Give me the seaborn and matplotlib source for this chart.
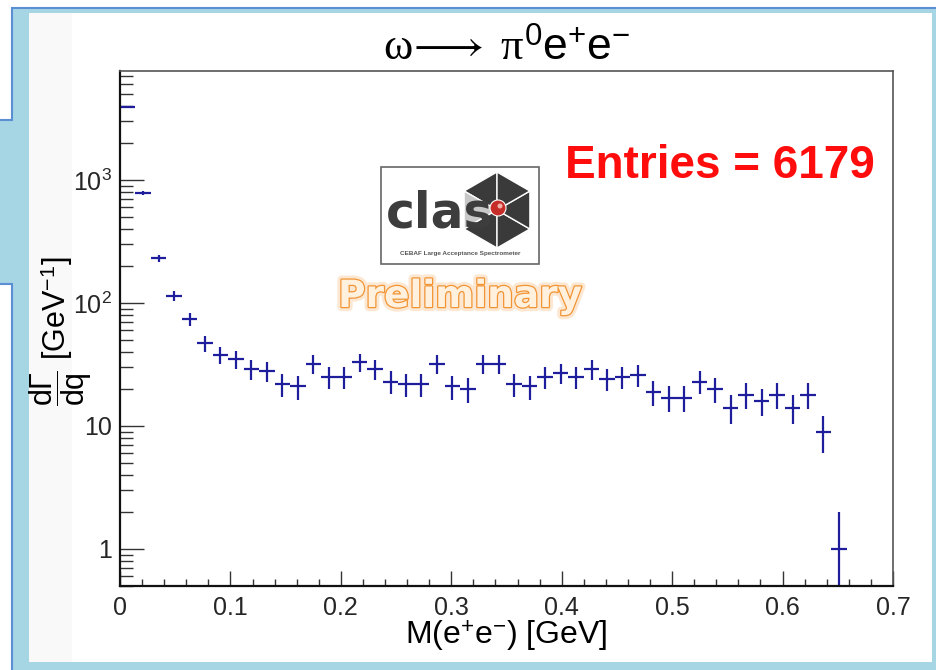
import numpy as np
import pandas as pd
import matplotlib
matplotlib.use('Agg')
import matplotlib.pyplot as plt
import matplotlib.patches as mpatches
import matplotlib.patheffects as pe
from matplotlib.ticker import FixedLocator, FixedFormatter, LogLocator, MultipleLocator, NullFormatter
import seaborn as sns

# Histogram binning of M(e+e-) in GeV
bin_lo, bin_hi, n_bins = 0.0, 0.7, 50

# dGamma/dq per bin (bins 0..46, the last bins are empty)
counts = [3960, 790, 231, 114, 74, 47, 38, 35, 29, 28,
          22, 21, 32, 25, 25, 33, 29, 23, 22, 22,
          32, 21, 20, 32, 32, 22, 21, 25, 27, 25,
          29, 24, 25, 26, 19, 17, 17, 23, 20, 14,
          18, 16, 18, 14, 18, 9, 1]
errors = [63, 28, 15.2, 10.7, 8.6, 6.9, 6.2, 5.9, 5.4, 5.3,
          4.7, 4.6, 5.7, 5.0, 5.0, 5.7, 5.4, 4.8, 4.7, 4.7,
          5.7, 4.6, 4.5, 5.7, 5.7, 4.7, 4.6, 5.0, 5.2, 5.0,
          5.4, 4.9, 5.0, 5.1, 4.4, 4.1, 4.1, 4.8, 4.5, 3.7,
          4.2, 4.0, 4.2, 3.7, 4.2, 3.0, 1.0]
n_entries = 6179

x_ticks = [0, 0.1, 0.2, 0.3, 0.4, 0.5, 0.6, 0.7]
x_tick_labels = ['0', '0.1', '0.2', '0.3', '0.4', '0.5', '0.6', '0.7']
y_ticks = [1, 10, 100, 1000]
y_tick_labels = ['1', '10', r'$\mathregular{10^{2}}$', r'$\mathregular{10^{3}}$']

NAVY = '#1e1e9c'

sns.set_theme(style='ticks')
plt.rcParams['font.family'] = ['Liberation Sans', 'DejaVu Sans']
plt.rcParams['mathtext.fontset'] = 'custom'
plt.rcParams['mathtext.rm'] = 'Liberation Sans'
plt.rcParams['mathtext.it'] = 'Liberation Serif'
plt.rcParams['mathtext.bf'] = 'Liberation Sans:bold'

width = (bin_hi - bin_lo) / n_bins
df = pd.DataFrame({'mass': bin_lo + (np.arange(len(counts)) + 0.5) * width,
                   'dgdq': counts, 'err': errors})

W, H = 937, 670
fig = plt.figure(figsize=(W / 100, H / 100), dpi=100)
fig.patch.set_facecolor('white')

# slide frame in pixel coordinates
bg = fig.add_axes([0, 0, 1, 1], zorder=0)
bg.set_xlim(0, W)
bg.set_ylim(H, 0)
bg.axis('off')
frame = [(12, 8), (W + 5, 8), (W + 5, H + 5), (12, H + 5), (12, 284),
         (-5, 284), (-5, 120), (12, 120)]
bg.add_patch(mpatches.Polygon(frame, closed=True, facecolor='#a6d6e4',
                              edgecolor='#5a8fd3', lw=1.5))
bg.add_patch(mpatches.Rectangle((29, 13), 903, 649, facecolor='white', lw=0))
bg.add_patch(mpatches.Rectangle((29, 13), 43, 649, facecolor='#f9f9f9', lw=0))

# main histogram axes
ax = fig.add_axes([120 / W, 84 / H, 773 / W, 515 / H], zorder=1)
ax.set_facecolor('none')
ax.errorbar(df['mass'], df['dgdq'], xerr=width / 2, yerr=df['err'], fmt='none',
            ecolor=NAVY, elinewidth=1.6, capsize=0)
ax.set_yscale('log')
ax.set_xlim(bin_lo, bin_hi)
ax.set_ylim(0.5, 7700)

ax.xaxis.set_major_locator(FixedLocator(x_ticks))
ax.xaxis.set_major_formatter(FixedFormatter(x_tick_labels))
ax.xaxis.set_minor_locator(MultipleLocator(0.02))
ax.yaxis.set_major_locator(FixedLocator(y_ticks))
ax.yaxis.set_major_formatter(FixedFormatter(y_tick_labels))
ax.yaxis.set_minor_locator(LogLocator(base=10, subs=np.arange(2, 10), numticks=20))
ax.yaxis.set_minor_formatter(NullFormatter())

ax.tick_params(axis='x', which='major', direction='in', length=11, width=1,
               color='#333333', labelsize=18, pad=7, top=False)
ax.tick_params(axis='x', which='minor', direction='in', length=5, width=1,
               color='#333333', top=False)
ax.tick_params(axis='y', which='major', direction='in', length=17, width=1,
               color='#333333', labelsize=18, pad=6, right=False)
ax.tick_params(axis='y', which='minor', direction='in', length=9, width=1,
               color='#333333', right=False)
for side in ['left', 'bottom']:
    ax.spines[side].set_color('#111111')
    ax.spines[side].set_linewidth(1.6)
for side in ['top', 'right']:
    ax.spines[side].set_color('#555555')
    ax.spines[side].set_linewidth(1.2)

ax.set_xlabel(r'M(e$^{+}$e$^{-}$) [GeV]', fontsize=23, color='black')
ax.xaxis.label.set_va('center')
ax.xaxis.set_label_coords(0.5, (586 - 636) / 515)
ax.set_ylabel(r'$\dfrac{\mathrm{d}\Gamma}{\mathrm{dq}}$ [GeV$^{-1}$]', fontsize=22,
              color='black')
ax.yaxis.label.set_va('center')
ax.yaxis.set_label_coords((61 - 120) / 773, (586 - 331) / 515)

ax.set_title(r'$\omega\!\longrightarrow\;\pi^{0}\mathrm{e}^{+}\mathrm{e}^{-}$',
             fontsize=32, y=(586 - 48) / 515, pad=0, va='center', color='black')

# annotations in pixel coordinates
ov = fig.add_axes([0, 0, 1, 1], zorder=3)
ov.set_xlim(0, W)
ov.set_ylim(H, 0)
ov.axis('off')
ov.patch.set_alpha(0)

ov.text(720, 166, f'Entries = {n_entries}', color='#ff0d0d', fontsize=33,
        fontweight='bold', ha='center', va='center')

# CLAS logo
ov.add_patch(mpatches.Rectangle((381, 167), 158, 97, facecolor='white',
                                edgecolor='#666666', lw=1.2))
cx, cy, r = 497, 210, 38
for k in range(6):
    a0 = np.deg2rad(90 + 60 * k)
    a1 = np.deg2rad(90 + 60 * (k + 1))
    tri = [(cx, cy), (cx + r * np.cos(a0), cy - r * np.sin(a0)),
           (cx + r * np.cos(a1), cy - r * np.sin(a1))]
    col = '#c8c8c8' if k == 1 else '#3a3a3a'
    ov.add_patch(mpatches.Polygon(tri, closed=True, facecolor=col,
                                  edgecolor='white', lw=1))
ov.text(440, 213, 'clas', fontsize=35, color='#3d3d3d', family='DejaVu Sans',
        fontweight='bold', ha='center', va='center')
ov.add_patch(mpatches.Circle((498, 208), 8, facecolor='#c62d28', edgecolor='white', lw=0.8))
ov.add_patch(mpatches.Circle((500, 206), 2.5, facecolor='#f3b0a8', lw=0))
ov.text(460, 254, 'CEBAF Large Acceptance Spectrometer', fontsize=4.6,
        color='#555555', ha='center', va='center', fontweight='bold')

ov.text(460, 297, 'Preliminary', fontsize=27, fontweight='bold',
        family='DejaVu Sans', color='#fff1de', ha='center', va='center',
        path_effects=[pe.withStroke(linewidth=6, foreground='#fbd6ad', alpha=0.55),
                      pe.withStroke(linewidth=1.8, foreground='#f29434')])

fig.savefig('out.png', dpi=100)
plt.close(fig)
